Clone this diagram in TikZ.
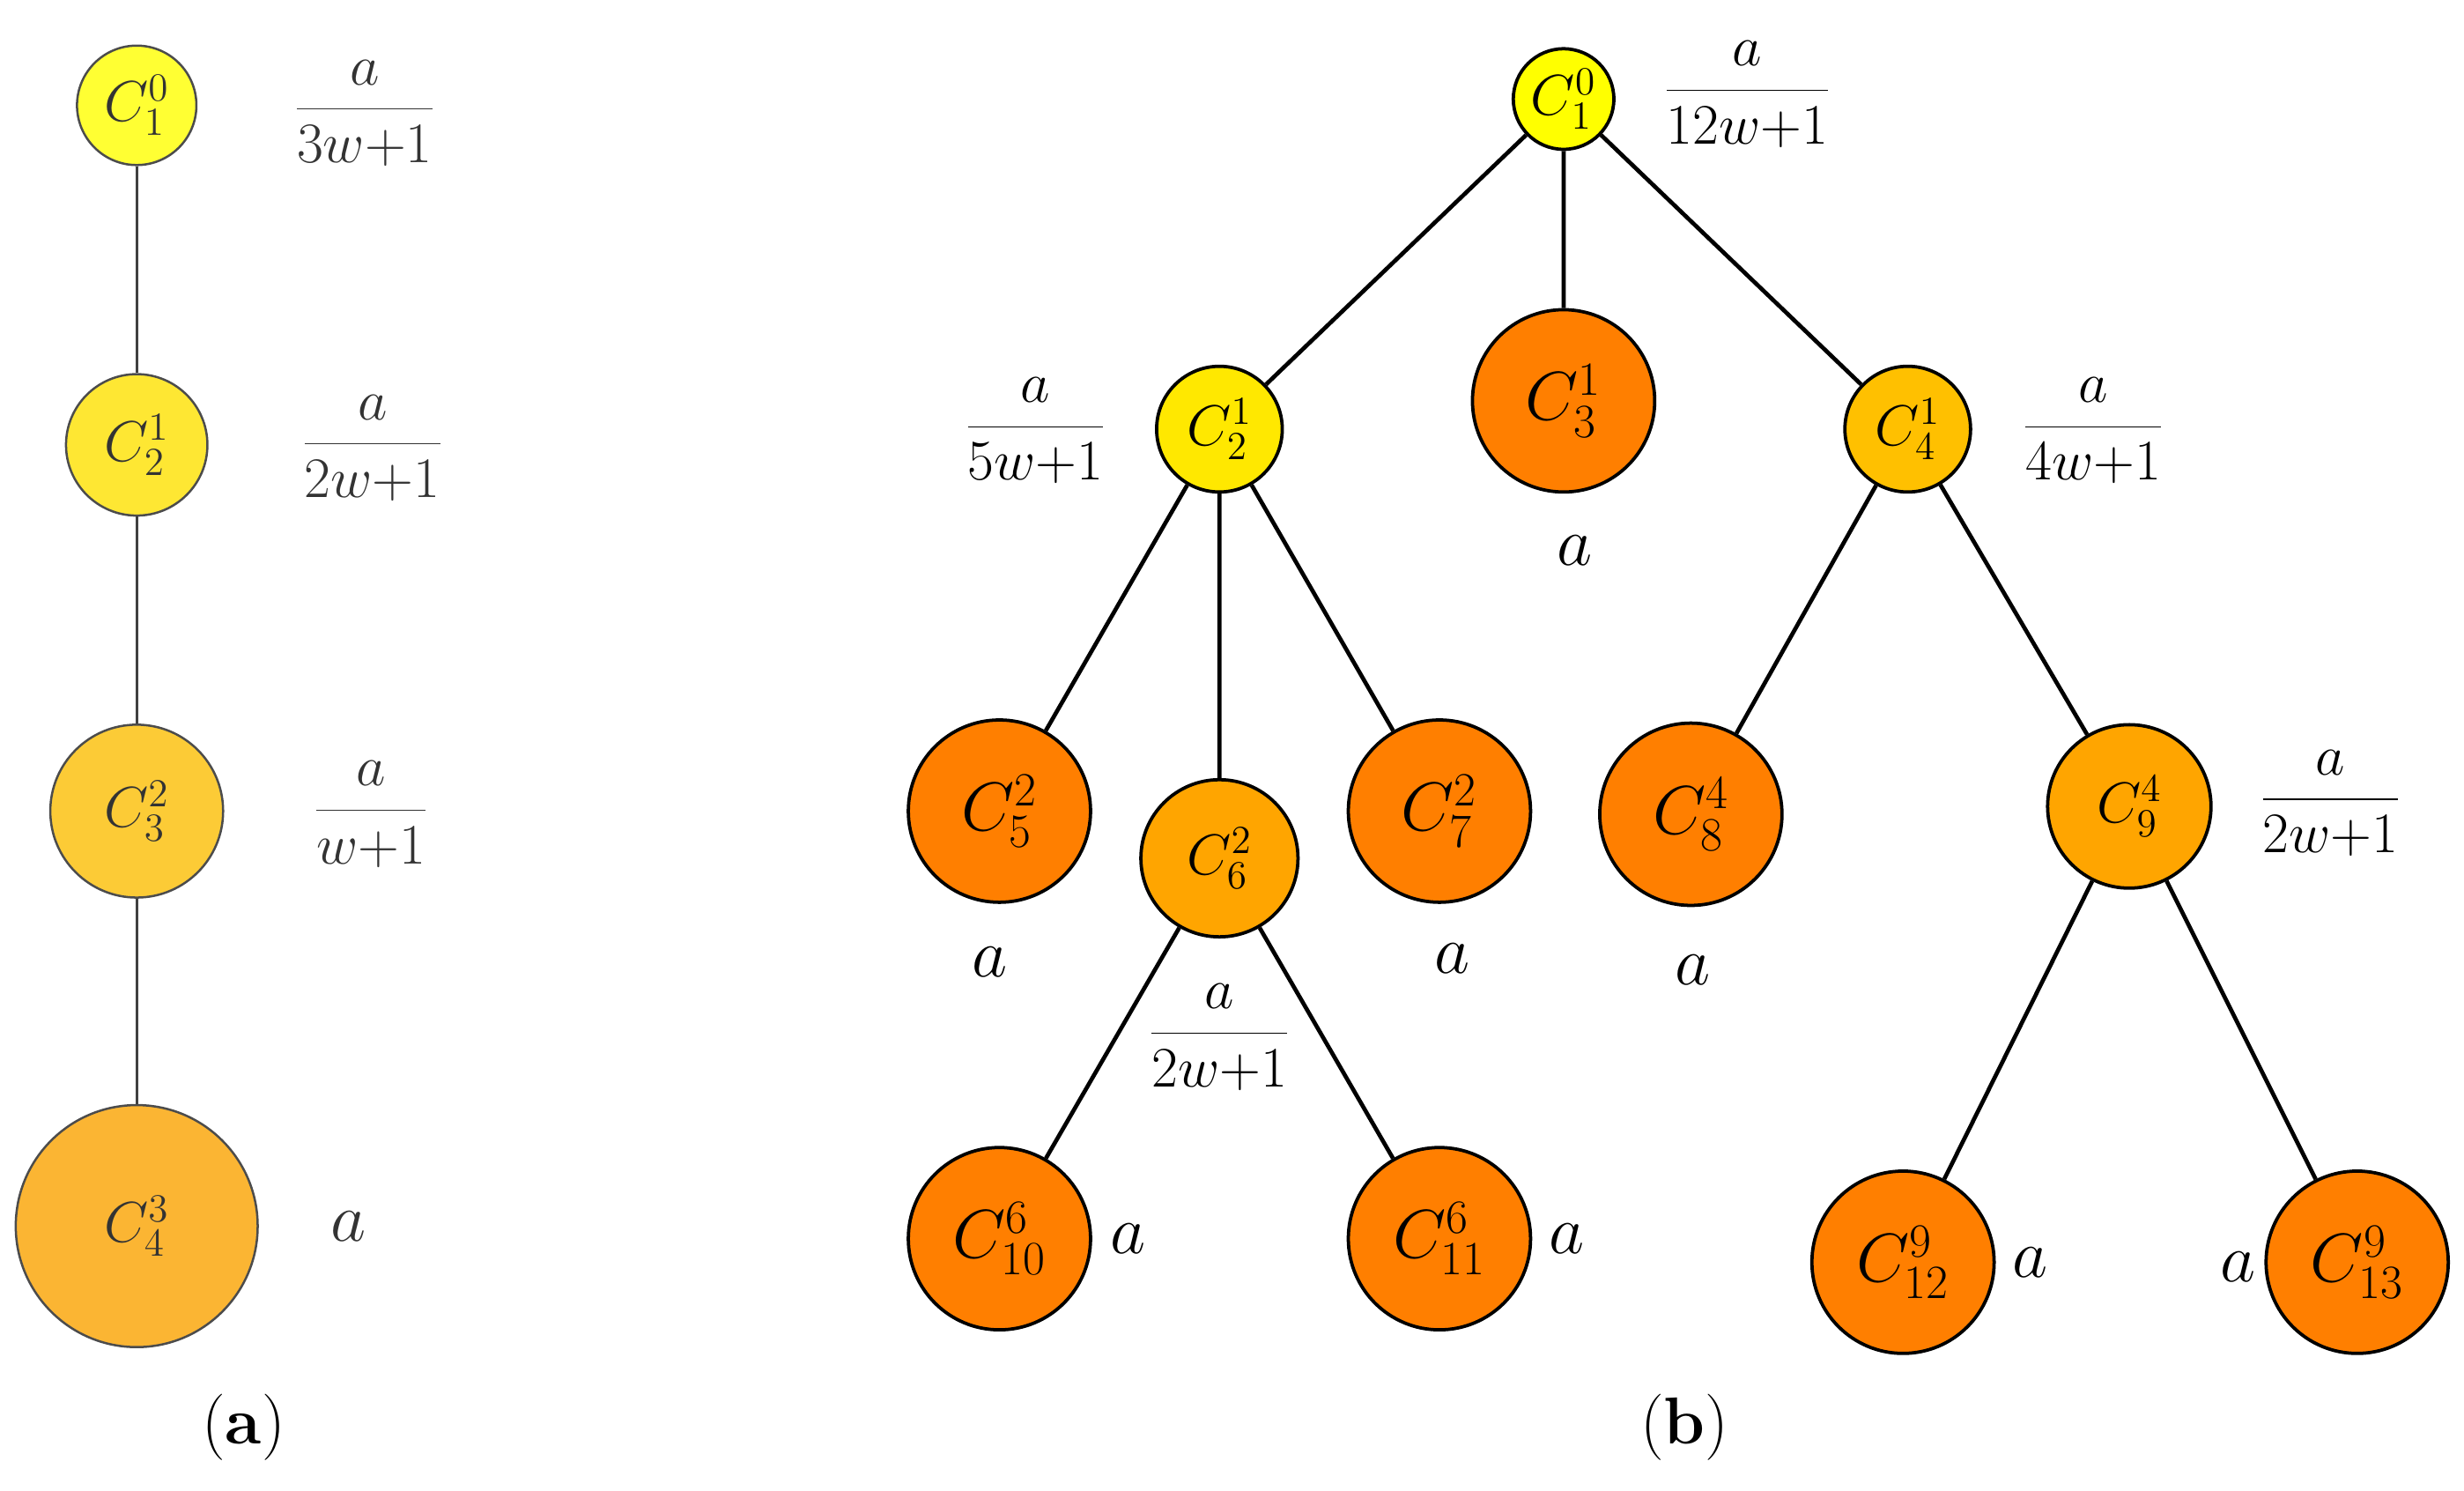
\documentclass[tikz,border=0pt]{standalone}
\begin{document}
\begin{tikzpicture}[x=0.02cm,y=-0.02cm,
 nd/.style={circle,draw=black,line width=1.2pt,inner sep=0pt,font=\fontsize{22}{24}\selectfont},
 big/.style={font=\fontsize{25}{27}\selectfont},
 ndl/.style={circle,draw=black!70,line width=0.8pt,inner sep=0pt,font=\fontsize{22}{24}\selectfont,text=black!80},
 lb/.style={font=\fontsize{22}{24}\selectfont,execute at begin node=$\displaystyle,execute at end node=$},
 lbl/.style={lb,text=black!80},
 al/.style={font=\fontsize{28}{30}\selectfont},
 e/.style={line width=1.5pt},
 el/.style={line width=0.9pt,draw=black!75}]
\useasboundingbox (0,0) rectangle (1568,948);
\definecolor{ya}{HTML}{FFFF33}\definecolor{yb}{HTML}{FEE733}
\definecolor{yc}{HTML}{FCCB36}\definecolor{yd}{HTML}{FBB533}
\definecolor{Y0}{HTML}{FFFF00}\definecolor{Y1}{HTML}{FFE800}
\definecolor{Y2}{HTML}{FFC000}\definecolor{Y3}{HTML}{FFA500}
\definecolor{O}{HTML}{FF7F00}
% (a)
\node[ndl,fill=ya,minimum size=1.52cm] (a1) at (87,67) {$C_1^0$};
\node[ndl,fill=yb,minimum size=1.8cm] (a2) at (87,283) {$C_2^1$};
\node[ndl,fill=yc,minimum size=2.2cm] (a3) at (87,516) {$C_3^2$};
\node[ndl,fill=yd,minimum size=3.08cm] (a4) at (87,780) {$C_4^3$};
\draw[el] (a1)--(a2) (a2)--(a3) (a3)--(a4);
\node[lbl] (fa1) at (232,72) {\frac{a}{3w{+}1}};
\node[lbl] (fa2) at (237,285) {\frac{a}{2w{+}1}};
\node[lbl] (fa3) at (236,518) {\frac{a}{w{+}1}};
\node[al,text=black!80] (fa4) at (222,780) {$a$};
\node[al,font=\fontsize{24}{26}\selectfont] (la) at (155,908) {(\textbf{a})};
% (b)
\node[nd,fill=Y0,minimum size=1.28cm] (b1) at (995,63) {$C_1^0$};
\node[nd,fill=Y1,minimum size=1.6cm] (b2) at (776,273) {$C_2^1$};
\node[nd,big,fill=O,minimum size=2.32cm] (b3) at (995,255) {$C_3^1$};
\node[nd,fill=Y2,minimum size=1.6cm] (b4) at (1214,273) {$C_4^1$};
\node[nd,big,fill=O,minimum size=2.32cm] (b5) at (636,516) {$C_5^2$};
\node[nd,fill=Y3,minimum size=2cm] (b6) at (776,546) {$C_6^2$};
\node[nd,big,fill=O,minimum size=2.32cm] (b7) at (916,516) {$C_7^2$};
\node[nd,big,fill=O,minimum size=2.32cm] (b8) at (1076,518) {$C_8^4$};
\node[nd,fill=Y3,minimum size=2.08cm] (b9) at (1355,513) {$C_9^4$};
\node[nd,big,fill=O,minimum size=2.32cm] (b10) at (636,788) {$C_{10}^6$};
\node[nd,big,fill=O,minimum size=2.32cm] (b11) at (916,788) {$C_{11}^6$};
\node[nd,big,fill=O,minimum size=2.32cm] (b12) at (1211,803) {$C_{12}^9$};
\node[nd,big,fill=O,minimum size=2.32cm] (b13) at (1500,803) {$C_{13}^9$};
\draw[e] (b1)--(b2) (b1)--(b3) (b1)--(b4) (b2)--(b5) (b2)--(b6) (b2)--(b7)
 (b4)--(b8) (b4)--(b9) (b6)--(b10) (b6)--(b11) (b9)--(b12) (b9)--(b13);
\node[lb] (fb1) at (1112,60) {\frac{a}{12w{+}1}};
\node[lb] (fb2) at (659,274) {\frac{a}{5w{+}1}};
\node[lb] (fb4) at (1332,274) {\frac{a}{4w{+}1}};
\node[lb] (fb6) at (776,660) {\frac{a}{2w{+}1}};
\node[lb] (fb9) at (1483,511) {\frac{a}{2w{+}1}};
\node[al] (t3) at (1002,350) {$a$};
\node[al] (t5) at (630,612) {$a$};
\node[al] (t7) at (924,610) {$a$};
\node[al] (t8) at (1077,617) {$a$};
\node[al] (t10) at (718,788) {$a$};
\node[al] (t11) at (997,788) {$a$};
\node[al] (t12) at (1292,803) {$a$};
\node[al] (t13) at (1424,806) {$a$};
\node[al,font=\fontsize{24}{26}\selectfont] (lbb) at (1072,908) {(\textbf{b})};
\end{tikzpicture}
\end{document}
